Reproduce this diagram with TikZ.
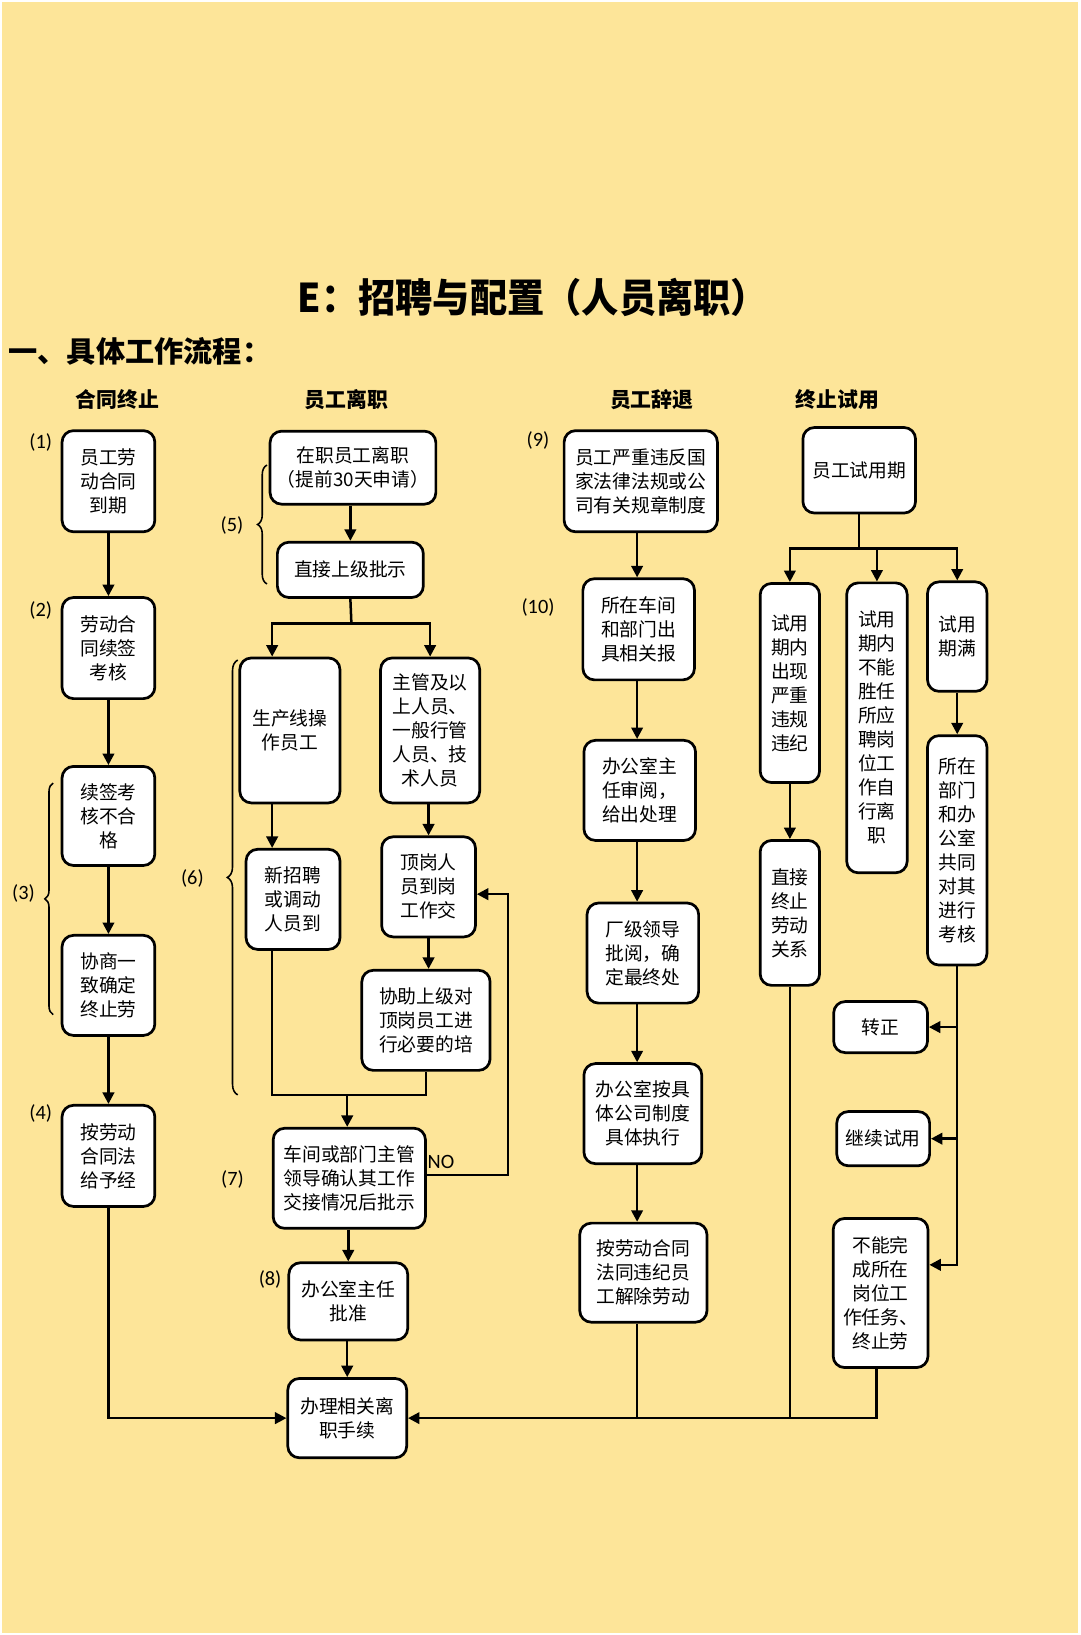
\documentclass[tikz,border=0pt]{standalone}
\usepackage{fontspec}
\setmainfont{Noto Sans CJK SC}
\newfontfamily\cjk{Noto Sans CJK SC}
\newfontfamily\lab{Carlito}
\usetikzlibrary{arrows.meta,decorations.pathreplacing,calc}
\definecolor{bg}{RGB}{253,229,153}
\begin{document}
\begin{tikzpicture}[x=1pt,y=-1pt,
  box/.style={draw,line width=2.6pt,rounded corners=11pt,fill=white,align=center,inner sep=0pt,font=\cjk\fontsize{18}{23}\selectfont},
  arr/.style={line width=2.4pt,-{Triangle[length=11pt,width=11pt]}},
  ln/.style={line width=2.4pt},
  lbl/.style={font=\lab\fontsize{19.5}{21}\selectfont,inner sep=0pt},
  hdr/.style={font=\cjk\bfseries\fontsize{20}{22}\selectfont,inner sep=0pt},
  brc/.style={decorate,decoration={brace,amplitude=9pt},line width=1.5pt},
]
\fill[white] (0,0) rectangle (1036,1568);
\fill[bg] (2,2) rectangle (1034,1566);
\useasboundingbox (0,0) rectangle (1036,1568);

% titles
\node[inner sep=0pt,font=\cjk\bfseries\fontsize{38}{40}\selectfont] (title) at (511,285) {\scalebox{0.94}[1]{E：招聘与配置（人员离职）}};
\node[anchor=west,inner sep=0pt,font=\cjk\bfseries\fontsize{28}{30}\selectfont] (sec) at (8,337) {一、具体工作流程：};
\node[hdr] (h1) at (112.5,383) {合同终止};
\node[hdr] (h2) at (332,383) {员工离职};
\node[hdr] (h3) at (625,383) {员工辞退};
\node[hdr] (h4) at (803,383) {终止试用};

% column 1
\node[box,minimum width=89pt,minimum height=97pt] (B1) at (104,461.5) {员工劳\\动合同\\到期};
\node[box,minimum width=89pt,minimum height=97pt] (B2) at (104,621.5) {劳动合\\同续签\\考核};
\node[box,minimum width=89pt,minimum height=95pt] (B3) at (104,782.5) {续签考\\核不合\\格};
\node[box,minimum width=89pt,minimum height=96pt] (B4) at (104,945) {协商一\\致确定\\终止劳};
\node[box,minimum width=89pt,minimum height=97pt] (B5) at (104,1108.5) {按劳动\\合同法\\给予经};

% column 2
\node[box,minimum width=159pt,minimum height=70pt] (C1) at (338.5,448.5) {在职员工离职\\（提前30天申请）};
\node[box,minimum width=140pt,minimum height=53pt] (C2) at (336,546.5) {直接上级批示};
\node[box,minimum width=96pt,minimum height=139pt] (C3) at (278,700.5) {生产线操\\作员工};
\node[box,minimum width=95pt,minimum height=139pt] (C4) at (412.5,700.5) {主管及以\\上人员、\\一般行管\\人员、技\\术人员};
\node[box,minimum width=90pt,minimum height=96pt] (C5) at (281,862.5) {新招聘\\或调动\\人员到};
\node[box,minimum width=90pt,minimum height=96pt] (C6) at (411,850.5) {顶岗人\\员到岗\\工作交};
\node[box,minimum width=123pt,minimum height=96pt] (C7) at (408.5,978.5) {协助上级对\\顶岗员工进\\行必要的培};
\node[box,minimum width=146pt,minimum height=96pt] (C8) at (335,1130) {车间或部门主管\\领导确认其工作\\交接情况后批示};
\node[box,minimum width=114pt,minimum height=74pt] (C9) at (334,1248) {办公室主任\\批准};
\node[box,minimum width=114pt,minimum height=76pt] (C10) at (333,1360) {办理相关离\\职手续};

% column 3
\node[box,minimum width=147pt,minimum height=97pt] (D1) at (614.5,461.5) {员工严重违反国\\家法律法规或公\\司有关规章制度};
\node[box,minimum width=107pt,minimum height=97pt] (D2) at (612.5,603.5) {所在车间\\和部门出\\具相关报};
\node[box,minimum width=107pt,minimum height=96pt] (D3) at (613.5,758) {办公室主\\任审阅，\\给出处理};
\node[box,minimum width=107pt,minimum height=96pt] (D4) at (616.5,914) {厂级领导\\批阅，确\\定最终处};
\node[box,minimum width=113pt,minimum height=96pt] (D5) at (616.5,1068) {办公室按具\\体公司制度\\具体执行};
\node[box,minimum width=122pt,minimum height=95pt] (D6) at (617,1220.5) {按劳动合同\\法同违纪员\\工解除劳动};

% column 4
\node[box,minimum width=108pt,minimum height=82pt] (E1) at (824,451) {员工试用期};
\node[box,minimum width=57pt,minimum height=191pt] (E2) at (757.5,655) {试用\\期内\\出现\\严重\\违规\\违纪};
\node[box,minimum width=58pt,minimum height=278pt] (E3) at (841,698) {试用\\期内\\不能\\胜任\\所应\\聘岗\\位工\\作自\\行离\\职};
\node[box,minimum width=57pt,minimum height=105pt] (E4) at (918,610.5) {试用\\期满};
\node[box,minimum width=57pt,minimum height=139pt] (E5) at (757.5,875.5) {直接\\终止\\劳动\\关系};
\node[box,minimum width=57pt,minimum height=220pt] (E6) at (918,815.5) {所在\\部门\\和办\\公室\\共同\\对其\\进行\\考核};
\node[box,minimum width=90pt,minimum height=49pt] (F1) at (844.5,985) {转正};
\node[box,minimum width=89pt,minimum height=52pt] (F2) at (847,1092) {继续试用};
\node[box,minimum width=91pt,minimum height=143pt] (F3) at (844.5,1240) {不能完\\成所在\\岗位工\\作任务、\\终止劳};

% labels
\node[lbl] (l1) at (39,424) {(1)};
\node[lbl] (l2) at (39,585) {(2)};
\node[lbl] (l3) at (22.5,857) {(3)};
\node[lbl] (l4) at (39,1068) {(4)};
\node[lbl] (l5) at (222.5,503.5) {(5)};
\node[lbl] (l6) at (184.5,842) {(6)};
\node[lbl] (l7) at (223,1131) {(7)};
\node[lbl] (l8) at (259,1227) {(8)};
\node[lbl] (l9) at (516,422) {(9)};
\node[lbl] (l10) at (516,583) {(10)};

% braces
\draw[brc,decoration={amplitude=8pt}] (51,973) -- (51,751);
\draw[brc] (256,560) -- (256,446);
\draw[brc,decoration={amplitude=10pt}] (228,1050) -- (228,633);

% column 1 connectors
\draw[arr] (B1) -- (B2);
\draw[arr] (B2) -- (B3);
\draw[arr] (B3) -- (B4);
\draw[arr] (B4) -- (B5);
\draw[arr] (B5.south) |- (C10.west);

% column 2 connectors
\coordinate (cl) at (261,0);
\coordinate (cb) at (337,598);
\coordinate (cm) at (333,1050);
\draw[arr] (C1.south -| C2.north) -- (C2.north);
\draw[ln] (C2.south) -- (cb);
\draw[arr] (cb) -| (cl |- C3.north);
\draw[arr] (cb) -| (C4.north);
\draw[arr] (cl |- C3.south) -- (cl |- C5.north);
\draw[arr] (C4.south -| C6.north) -- (C6.north);
\draw[arr] (C6.south) -- (C6.south |- C7.north);
\draw[ln] (cl |- C5.south) -- (cl |- cm) -- (C7.south |- cm) -- (C7.south);
\draw[arr] (cm) -- (cm |- C8.north);
\draw[arr] (C8.south -| C9.north) -- (C9.north);
\draw[arr] (C9.south -| C10.north) -- (C10.north);
\draw[arr] ([yshift=3pt]C8.east) -- ++(78,0) |- ([yshift=-7pt]C6.east);
\node[lbl,anchor=west] (no) at (410,1114) {NO};

% column 3 connectors
\coordinate (dx) at (611,0);
\draw[arr] (D1.south -| dx) -- (D2.north -| dx);
\draw[arr] (D2.south -| dx) -- (D3.north -| dx);
\draw[arr] (D3.south -| dx) -- (D4.north -| dx);
\draw[arr] (D4.south -| dx) -- (D5.north -| dx);
\draw[arr] (D5.south -| dx) -- (D6.north -| dx);
\draw[arr] ([xshift=-4pt]F3.south) |- (C10.east);
\draw[ln] (D6.south -| dx) -- (dx |- C10.east);
\draw[ln] (E5.south) -- (E5.south |- C10.east);

% column 4 connectors
\coordinate (eb) at (824,526);
\draw[ln] (E1.south) -- (eb);
\draw[arr] (eb) -| (E2.north);
\draw[arr] (eb) -| (E3.north);
\draw[arr] (eb) -| (E4.north);
\draw[arr] (E2) -- (E5);
\draw[arr] (E4) -- (E6);
\draw[arr] (E6.south) |- ([yshift=27pt]F3.east);
\draw[arr] (E6.south |- F1.east) -- (F1.east);
\draw[arr] (E6.south |- F2.east) -- (F2.east);
\end{tikzpicture}
\end{document}
